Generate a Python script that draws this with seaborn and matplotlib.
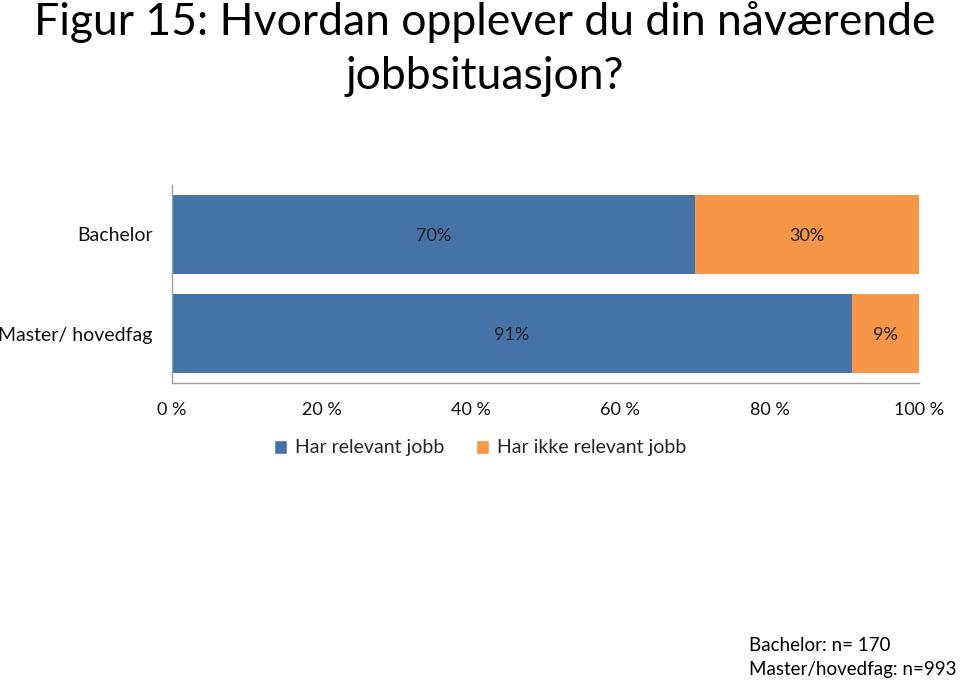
import matplotlib
matplotlib.use("Agg")
import matplotlib.pyplot as plt
import seaborn as sns
import pandas as pd
from matplotlib.patches import Patch

categories = ["Bachelor", "Master/ hovedfag"]
har_relevant = [70, 91]
har_ikke_relevant = [30, 9]
xticks = [0, 20, 40, 60, 80, 100]
xtick_labels = ["0 %", "20 %", "40 %", "60 %", "80 %", "100 %"]
series_names = ["Har relevant jobb", "Har ikke relevant jobb"]
title = "Figur 15: Hvordan opplever du din nåværende\njobbsituasjon?"
footnote = "Bachelor: n= 170\nMaster/hovedfag: n=993"

BLUE = "#4573A7"
ORANGE = "#F79646"

sns.set_theme(style="white")
plt.rcParams["font.family"] = ["Lato", "DejaVu Sans"]

df = pd.DataFrame({"kategori": categories,
                   "rel": har_relevant,
                   "ikke": har_ikke_relevant})
df["total"] = df["rel"] + df["ikke"]

fig = plt.figure(figsize=(9.6, 6.83), dpi=100)
ax = fig.add_axes([172/960, 1-383/683, (919-172)/960, (383-185)/683])

sns.barplot(data=df, y="kategori", x="total", color=ORANGE, orient="h",
            width=0.79, ax=ax, saturation=1, linewidth=0)
sns.barplot(data=df, y="kategori", x="rel", color=BLUE, orient="h",
            width=0.79, ax=ax, saturation=1, linewidth=0)

for i, (r, n) in enumerate(zip(har_relevant, har_ikke_relevant)):
    ax.text(r/2, i + 0.02, f"{r}%", ha="center", va="center", fontsize=13, color="#222222")
    ax.text(r + n/2, i + 0.02, f"{n}%", ha="center", va="center", fontsize=13, color="#222222")

ax.set_xlim(0, 100)
ax.set_ylim(1.5, -0.5)
ax.set_xticks(xticks)
ax.set_xticklabels(xtick_labels, fontsize=13)
ax.set_xlabel("")
ax.set_ylabel("")
ax.tick_params(axis="x", length=0, pad=14, colors="#111111")
ax.tick_params(axis="y", length=0, pad=14, labelsize=14, colors="#111111")
for s in ["top", "right"]:
    ax.spines[s].set_visible(False)
for s in ["left", "bottom"]:
    ax.spines[s].set_color("#A0A0A0")
    ax.spines[s].set_linewidth(1.0)

handles = [Patch(facecolor=BLUE, label=series_names[0]),
           Patch(facecolor=ORANGE, label=series_names[1])]
fig.legend(handles=handles, loc="center", bbox_to_anchor=(480/960, 1-448/683),
           ncol=2, frameon=False, fontsize=14, handlelength=0.7, handleheight=0.7,
           handletextpad=0.4, columnspacing=1.6)

fig.text(485/960, 1-1/683, title, ha="center", va="top", fontsize=32,
         multialignment="center", linespacing=1.4, color="#000000")
fig.text(749/960, 1-637/683, footnote, ha="left", va="top", fontsize=13.5,
         linespacing=1.5, color="#000000")

fig.savefig("out.png", dpi=100)
